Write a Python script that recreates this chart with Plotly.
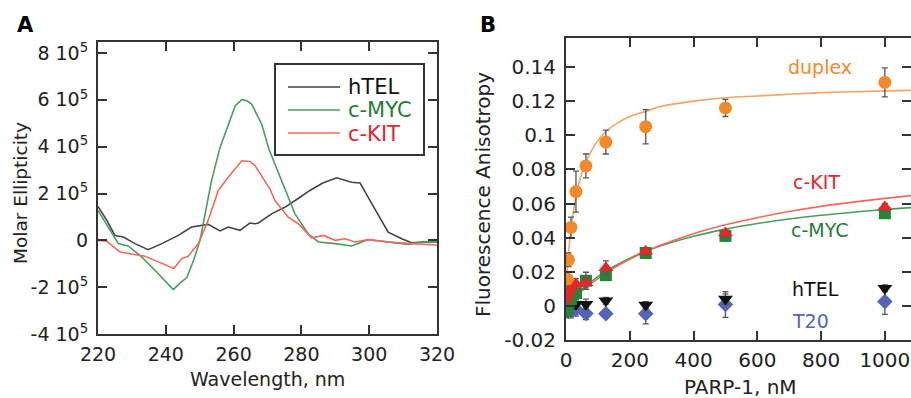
import plotly.graph_objects as go

W, H = 911, 398

# ---------------- Panel A data (CD spectra, units of 1e5) ----------------
cd_scale = 1e5
htel_wl = [220, 222.6, 225, 227.5, 230.9, 234.8, 238.8, 243.7, 247.6, 252.5, 256, 258.4, 261.9, 264.8,
           266.3, 267.3, 271.2, 275.2, 279.6, 282.5, 286.3, 290.4, 294.8, 297.3, 300.5, 305.6, 309.6, 312.5, 316, 320]
htel_cd = [1.45, 0.85, 0.21, 0.14, -0.14, -0.40, -0.14, 0.21, 0.57, 0.68, 0.40, 0.57, 0.43, 0.74,
           0.71, 0.74, 1.13, 1.42, 1.84, 2.13, 2.45, 2.67, 2.48, 2.45, 1.63, 0.35, 0.07, -0.10, -0.07, -0.07]

myc_wl = [220, 223.5, 226, 228.9, 232.9, 236.8, 240, 242.2, 244, 246.2, 248.2, 250.1, 251.6, 253.5, 256, 258.4,
          260.5, 262.5, 264, 265.3, 266.8, 268.3, 270.4, 274.2, 278.1, 282, 285, 289.9, 294.8, 299.7, 305.6, 311.5, 316, 320]
myc_cd = [1.28, 0.43, -0.14, -0.24, -0.71, -1.28, -1.75, -2.10, -1.85, -1.59, -0.85, 0.0, 1.13, 2.55, 3.97, 4.96,
          5.75, 6.02, 5.95, 5.82, 5.40, 4.96, 3.90, 2.55, 1.13, 0.28, -0.07, -0.14, -0.24, 0.03, -0.07, -0.17, -0.05, -0.07]

kit_wl = [220, 222.6, 226.5, 229.9, 233.9, 237.8, 240.5, 242.4, 244.7, 246.6, 249.6, 252.5, 255.5, 258.4, 262.4,
          264.8, 266.3, 267.8, 269.3, 270.7, 272.2, 276.1, 279.1, 283, 286.5, 289.9, 292.9, 295.8, 299.7, 305.6, 312.5, 319.4, 320]
kit_cd = [0.0, -0.04, -0.50, -0.57, -0.68, -0.92, -1.10, -1.20, -0.78, -0.68, -0.14, 0.85, 2.13, 2.69, 3.40,
          3.37, 3.19, 2.84, 2.55, 2.20, 1.70, 0.99, 0.71, 0.11, 0.21, 0.0, 0.07, -0.07, 0.03, -0.07, -0.14, -0.17, -0.20]

a_yticks = [-4, -2, 0, 2, 4, 6, 8]
a_yticktext = ["-4 10<sup>5</sup>", "-2 10<sup>5</sup>", "0", "2 10<sup>5</sup>",
               "4 10<sup>5</sup>", "6 10<sup>5</sup>", "8 10<sup>5</sup>"]
a_xticks = [220, 240, 260, 280, 300, 320]
a_legend_names = ["hTEL", "c-MYC", "c-KIT"]

# ---------------- Panel B data (fluorescence anisotropy) ----------------
conc = [0, 3.9, 7.8, 15.6, 31.25, 62.5, 125, 250, 500, 1000]

duplex_x = [3.9, 7.8, 15.6, 31.25, 62.5, 125, 250, 500, 1000]
duplex_y = [0.0157, 0.027, 0.046, 0.067, 0.082, 0.096, 0.105, 0.116, 0.131]
duplex_err = [0.004, 0.004, 0.006, 0.012, 0.007, 0.007, 0.010, 0.005, 0.0085]

kit_y = [0.004, 0.007, 0.009, 0.011, 0.013, 0.0135, 0.0224, 0.032, 0.0427, 0.058]
kit_err = [0.003, 0.003, 0.003, 0.003, 0.003, 0.003, 0.004, 0.002, 0.002, 0.002]

myc_y = [-0.003, 0.0, 0.002, 0.004, 0.0075, 0.0147, 0.018, 0.031, 0.041, 0.0543]
myc_err = [0.004, 0.004, 0.004, 0.004, 0.004, 0.005, 0.003, 0.002, 0.003, 0.002]

htel_y = [-0.002, -0.001, 0.0, 0.0, 0.001, 0.001, 0.003, 0.0005, 0.004, 0.0103]
htel_err = [0.004, 0.004, 0.004, 0.004, 0.003, 0.003, 0.002, 0.002, 0.003, 0.002]

t20_y = [-0.002, -0.001, -0.002, -0.003, -0.002, -0.0045, -0.0046, -0.0046, 0.0008, 0.0025]
t20_err = [0.004, 0.004, 0.004, 0.004, 0.004, 0.0035, 0.002, 0.006, 0.0075, 0.0075]

duplex_fit_x = [0, 5, 10, 20, 30, 45, 60, 80, 100, 130, 160, 200, 250, 300, 400, 500, 600, 700, 800, 900, 1000, 1085]
duplex_fit_y = [0.010, 0.024, 0.035, 0.051, 0.063, 0.075, 0.083, 0.091, 0.097, 0.103, 0.107, 0.111, 0.114,
                0.117, 0.120, 0.122, 0.123, 0.124, 0.125, 0.1255, 0.126, 0.1263]
fit_x = [0, 50, 100, 150, 200, 250, 300, 400, 500, 600, 700, 800, 900, 1000, 1085]
kit_fit_y = [0, 0.0088, 0.016, 0.0221, 0.0273, 0.0318, 0.0358, 0.0423, 0.0475, 0.0517, 0.0553, 0.0583,
             0.0608, 0.063, 0.0647]
myc_fit_y = [0, 0.0097, 0.0171, 0.0231, 0.028, 0.032, 0.0354, 0.0408, 0.045, 0.0483, 0.0509, 0.0531,
             0.0549, 0.0565, 0.0576]

b_yticks = [-0.02, 0, 0.02, 0.04, 0.06, 0.08, 0.1, 0.12, 0.14]
b_yticktext = ["-0.02", "0", "0.02", "0.04", "0.06", "0.08", "0.1", "0.12", "0.14"]
b_xticks = [0, 200, 400, 600, 800, 1000]

# ---------------- colours ----------------
c_htel = "#444444"
c_myc = "#4a9e5c"
c_kit = "#f26a5e"
c_htel_txt = "#111111"
c_myc_txt = "#1f7d38"
c_kit_txt = "#e8232b"
c_orange = "#f28a2a"
c_orange_fit = "#f5a465"
c_red_m = "#e8262a"
c_green_m = "#23843a"
c_blue = "#5565b5"
c_err = "#555555"

FONT = "DejaVu Sans"


def px_x(p):
    return p / W


def px_y(p):
    return 1 - p / H


fig = go.Figure()

# Panel A traces
for wl, cd, col in [(htel_wl, htel_cd, c_htel), (myc_wl, myc_cd, c_myc), (kit_wl, kit_cd, c_kit)]:
    fig.add_trace(go.Scatter(x=wl, y=[v * cd_scale for v in cd], mode="lines",
                             line=dict(color=col, width=1.6), showlegend=False, xaxis="x", yaxis="y"))

# Panel B fits
fig.add_trace(go.Scatter(x=duplex_fit_x, y=duplex_fit_y, mode="lines", line=dict(color=c_orange_fit, width=1.6, shape="spline"),
                         showlegend=False, xaxis="x2", yaxis="y2"))
fig.add_trace(go.Scatter(x=fit_x, y=myc_fit_y, mode="lines", line=dict(color=c_myc, width=1.6, shape="spline"),
                         showlegend=False, xaxis="x2", yaxis="y2"))
fig.add_trace(go.Scatter(x=fit_x, y=kit_fit_y, mode="lines", line=dict(color=c_kit, width=1.6, shape="spline"),
                         showlegend=False, xaxis="x2", yaxis="y2"))


def eb(err):
    return dict(type="data", array=err, visible=True, color=c_err, thickness=1.3, width=3)


fig.add_trace(go.Scatter(x=conc, y=t20_y, error_y=eb(t20_err), mode="markers",
                         marker=dict(symbol="diamond", size=12, color=c_blue),
                         showlegend=False, xaxis="x2", yaxis="y2"))
fig.add_trace(go.Scatter(x=conc, y=htel_y, error_y=eb(htel_err), mode="markers",
                         marker=dict(symbol="triangle-down", size=13, color="#111111"),
                         showlegend=False, xaxis="x2", yaxis="y2"))
fig.add_trace(go.Scatter(x=conc, y=myc_y, error_y=eb(myc_err), mode="markers",
                         marker=dict(symbol="square", size=12, color=c_green_m),
                         showlegend=False, xaxis="x2", yaxis="y2"))
fig.add_trace(go.Scatter(x=conc, y=kit_y, error_y=eb(kit_err), mode="markers",
                         marker=dict(symbol="triangle-up", size=13, color=c_red_m),
                         showlegend=False, xaxis="x2", yaxis="y2"))
fig.add_trace(go.Scatter(x=duplex_x, y=duplex_y, error_y=eb(duplex_err), mode="markers",
                         marker=dict(symbol="circle", size=13, color=c_orange),
                         showlegend=False, xaxis="x2", yaxis="y2"))
# invisible trace to host right-side tick axis of panel B
fig.add_trace(go.Scatter(x=[None], y=[None], showlegend=False, xaxis="x2", yaxis="y3", hoverinfo="skip"))

axis_common = dict(showline=True, linecolor="#333333", linewidth=2, ticks="inside", ticklen=9,
                   tickwidth=2, tickcolor="#333333", showgrid=False, zeroline=False, automargin=False)
font_a = dict(family=FONT, size=19, color="#222222")
font_b = dict(family=FONT, size=20, color="#222222")

xa_dom = [px_x(98), px_x(437)]
ya_dom = [px_y(334), px_y(42)]
xb_dom = [px_x(566), 1.0]
yb_dom = [px_y(340), px_y(38)]

fig.update_layout(
    width=W, height=H, margin=dict(l=0, r=0, t=0, b=0, autoexpand=False),
    paper_bgcolor="white", plot_bgcolor="white",
    font=dict(family=FONT, size=18, color="#222222"),
    showlegend=False,
    xaxis=dict(domain=xa_dom, range=[220, 320], tickvals=a_xticks, mirror="ticks", anchor="y",
               ticklabelstandoff=2, tickfont=font_a, **axis_common),
    yaxis=dict(domain=ya_dom, range=[-4e5, 8.47e5], tickvals=[v * cd_scale for v in a_yticks],
               ticktext=a_yticktext, mirror="ticks", anchor="x", ticklabelstandoff=4, tickfont=font_a,
               **axis_common),
    xaxis2=dict(domain=xb_dom, range=[0, 1082], tickvals=b_xticks, mirror="ticks", anchor="y2",
                ticklabelstandoff=1, tickfont=font_b, **axis_common),
    yaxis2=dict(domain=yb_dom, range=[-0.02, 0.157], tickvals=b_yticks, ticktext=b_yticktext,
                mirror=False, anchor="x2", ticklabelstandoff=4, tickfont=font_b, **axis_common),
    yaxis3=dict(overlaying="y2", anchor="x2", side="right", range=[-0.02, 0.157], tickvals=b_yticks,
                showticklabels=False, showline=False, ticks="inside", ticklen=9, tickwidth=2, automargin=False,
                tickcolor="#333333", showgrid=False, zeroline=False),
)

# Manual legend for panel A
shapes = [dict(type="rect", xref="paper", yref="paper", x0=px_x(275), x1=px_x(424), y0=px_y(155), y1=px_y(64),
               line=dict(color="#333333", width=2), fillcolor="white", layer="above")]
ann = []
leg_cols = [c_htel, c_myc, c_kit]
leg_txt_cols = [c_htel_txt, c_myc_txt, c_kit_txt]
for i, name in enumerate(a_legend_names):
    yy = 87 + 23 * i
    shapes.append(dict(type="line", xref="paper", yref="paper", x0=px_x(288), x1=px_x(340),
                       y0=px_y(yy), y1=px_y(yy), line=dict(color=leg_cols[i], width=1.6), layer="above"))
    ann.append(dict(text=name, x=px_x(346), y=px_y(yy + 0.5), xanchor="left",
                    font=dict(size=21, color=leg_txt_cols[i])))

ann.append(dict(text="<b>A</b>", x=px_x(25), y=px_y(25), font=dict(size=21, color="black")))
ann.append(dict(text="<b>B</b>", x=px_x(488), y=px_y(25), font=dict(size=21, color="black")))
ann.append(dict(text="Molar Ellipticity", x=px_x(20), y=px_y(193), textangle=-90, font=dict(size=18.5, color="#222222")))
ann.append(dict(text="Wavelength, nm", x=px_x(267.5), y=px_y(379), font=dict(size=19, color="#222222")))
ann.append(dict(text="Fluorescence Anisotropy", x=px_x(483), y=px_y(195), textangle=-90, font=dict(size=20, color="#222222")))
ann.append(dict(text="PARP-1, nM", x=px_x(740), y=px_y(387), font=dict(size=20, color="#222222")))
ann.append(dict(text="duplex", x=px_x(820), y=px_y(67), font=dict(size=19, color=c_orange)))
ann.append(dict(text="c-KIT", x=px_x(816), y=px_y(182), font=dict(size=19, color=c_kit_txt)))
ann.append(dict(text="c-MYC", x=px_x(820), y=px_y(230), font=dict(size=19, color=c_myc_txt)))
ann.append(dict(text="hTEL", x=px_x(815), y=px_y(289), font=dict(size=19, color="#111111")))
ann.append(dict(text="T20", x=px_x(810), y=px_y(321), font=dict(size=19, color=c_blue)))
for a in ann:
    a.update(xref="paper", yref="paper", showarrow=False, yanchor="middle")
    a.setdefault("xanchor", "center")
    a["font"].setdefault("family", FONT)
fig.update_layout(annotations=ann, shapes=shapes)

fig.write_html("out.html", config={"displayModeBar": False},
               post_script="document.body.style.margin='0';document.body.style.padding='0';")
